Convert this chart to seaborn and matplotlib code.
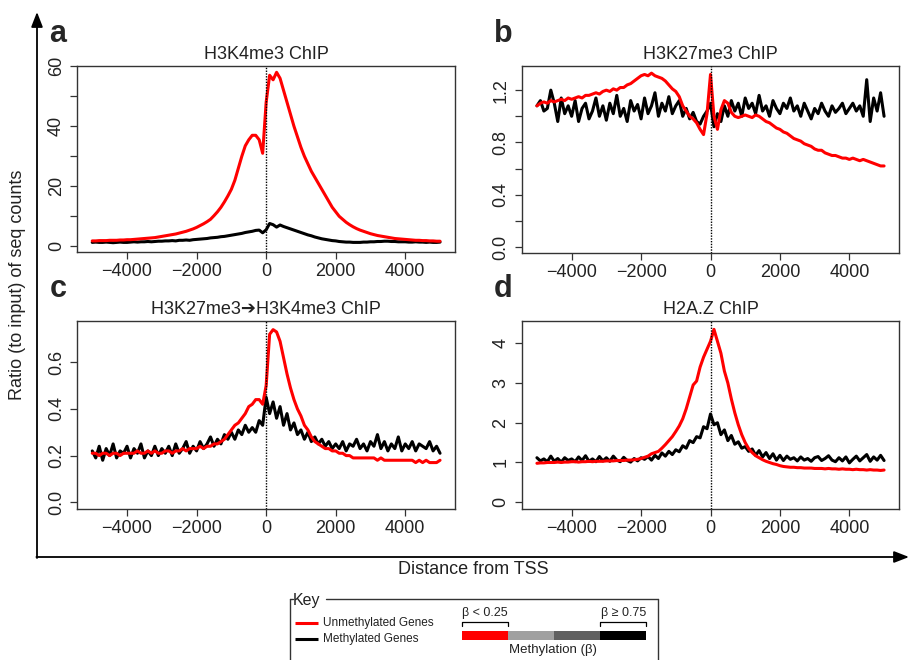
import numpy as np
import pandas as pd
import matplotlib
matplotlib.use("Agg")
import matplotlib.pyplot as plt
import seaborn as sns
from matplotlib.patches import Rectangle

sns.set_style("ticks")
plt.rcParams['font.family'] = ['Liberation Sans', 'DejaVu Sans']

# ---------------- data ----------------
positions = list(range(-5000, 5001, 100))

a_unmeth = [1.8, 1.8, 1.9, 1.9, 1.9, 2.0, 2.0, 2.0, 2.1, 2.1,
            2.2, 2.2, 2.3, 2.4, 2.5, 2.6, 2.7, 2.8, 2.9, 3.1,
            3.3, 3.5, 3.7, 3.9, 4.1, 4.4, 4.7, 5.0, 5.4, 5.8,
            6.3, 6.9, 7.5, 8.2, 9.0, 10.2, 11.5, 13.0, 14.8, 16.8,
            19.0, 22.0, 26.0, 30.0, 33.5, 35.5, 37.0, 37.0, 35.5, 31.0,
            48.0,
            57.0, 55.5, 58.0, 56.0, 52.0, 48.0, 44.0, 40.0, 36.5, 33.0,
            30.0, 27.5, 25.0, 23.0, 21.0, 19.0, 17.0, 15.0, 13.0, 11.5,
            10.0, 9.0, 8.0, 7.2, 6.5, 5.9, 5.4, 5.0, 4.6, 4.2,
            3.9, 3.6, 3.4, 3.2, 3.0, 2.8, 2.6, 2.5, 2.4, 2.3,
            2.2, 2.1, 2.0, 2.0, 1.9, 1.9, 1.8, 1.8, 1.7, 1.7]
a_meth = [1.3, 1.4, 1.3, 1.3, 1.4, 1.3, 1.2, 1.3, 1.4, 1.3,
          1.3, 1.4, 1.5, 1.4, 1.5, 1.5, 1.6, 1.5, 1.6, 1.7,
          1.7, 1.8, 1.8, 1.9, 1.8, 2.0, 2.0, 2.1, 2.0, 2.2,
          2.3, 2.4, 2.5, 2.6, 2.8, 2.9, 3.0, 3.2, 3.3, 3.5,
          3.7, 3.9, 4.1, 4.3, 4.6, 4.8, 5.0, 5.3, 5.4, 4.5,
          5.5,
          7.6, 7.2, 6.4, 7.1, 6.6, 6.2, 5.8, 5.4, 5.0, 4.6,
          4.2, 3.8, 3.5, 3.1, 2.8, 2.5, 2.3, 2.1, 1.9, 1.8,
          1.6, 1.5, 1.4, 1.4, 1.3, 1.3, 1.3, 1.4, 1.4, 1.5,
          1.5, 1.6, 1.6, 1.7, 1.7, 1.6, 1.6, 1.5, 1.5, 1.5,
          1.4, 1.4, 1.5, 1.4, 1.4, 1.3, 1.4, 1.3, 1.3, 1.4]

b_unmeth = [1.08, 1.10, 1.11, 1.10, 1.12, 1.11, 1.12, 1.13, 1.12, 1.14,
            1.13, 1.14, 1.15, 1.14, 1.16, 1.16, 1.17, 1.18, 1.17, 1.19,
            1.20, 1.19, 1.21, 1.20, 1.22, 1.22, 1.24, 1.25, 1.27, 1.29,
            1.31, 1.32, 1.31, 1.33, 1.31, 1.30, 1.29, 1.27, 1.24, 1.21,
            1.19, 1.15, 1.08, 1.04, 1.00, 0.98, 0.95, 0.90, 0.86, 1.02,
            1.32,
            1.00, 0.90, 1.05, 1.12, 1.10, 1.03, 1.00, 0.99, 1.00, 1.01,
            1.00, 0.99, 1.01, 1.00, 0.98, 0.96, 0.95, 0.93, 0.91, 0.90,
            0.88, 0.87, 0.85, 0.83, 0.82, 0.81, 0.79, 0.78, 0.77, 0.75,
            0.74, 0.74, 0.72, 0.71, 0.70, 0.70, 0.69, 0.68, 0.68, 0.67,
            0.68, 0.67, 0.66, 0.67, 0.66, 0.65, 0.64, 0.63, 0.62, 0.62]
b_meth = [1.08, 1.12, 1.04, 1.06, 1.20, 1.10, 0.96, 1.14, 1.02, 1.08,
          1.00, 1.12, 0.96, 1.06, 1.10, 0.98, 1.04, 1.14, 1.00, 1.08,
          0.97, 1.10, 1.02, 1.16, 1.00, 1.06, 0.96, 1.12, 1.04, 1.09,
          0.98, 1.14, 1.02, 1.08, 1.18, 1.00, 1.10, 1.04, 1.15, 1.02,
          1.08, 1.12, 1.00, 1.06, 0.98, 1.03, 0.96, 0.94, 1.00, 1.04,
          1.10,
          0.92, 1.02, 0.96, 1.08, 1.00, 1.12, 1.04, 1.10, 1.00, 1.14,
          1.06, 1.10, 1.02, 1.16, 1.04, 1.08, 1.00, 1.12, 1.06, 1.02,
          1.10, 1.06, 1.14, 1.04, 1.08, 1.00, 1.10, 1.04, 0.98, 1.06,
          1.02, 1.10, 1.04, 1.00, 1.08, 1.03, 1.06, 1.10, 1.02, 1.06,
          1.10, 1.04, 1.08, 1.00, 1.28, 0.96, 1.14, 1.04, 1.18, 1.00, 1.02]

c_unmeth = [0.21, 0.21, 0.20, 0.21, 0.21, 0.20, 0.21, 0.21, 0.20, 0.21,
            0.21, 0.21, 0.21, 0.22, 0.21, 0.21, 0.22, 0.21, 0.22, 0.21,
            0.21, 0.22, 0.22, 0.21, 0.22, 0.22, 0.23, 0.22, 0.23, 0.23,
            0.23, 0.24, 0.23, 0.24, 0.24, 0.25, 0.25, 0.26, 0.27, 0.29,
            0.31, 0.33, 0.34, 0.36, 0.38, 0.41, 0.42, 0.44, 0.44, 0.42,
            0.50,
            0.72, 0.74, 0.73, 0.69, 0.62, 0.55, 0.49, 0.44, 0.40, 0.37,
            0.33, 0.31, 0.28, 0.26, 0.25, 0.24, 0.23, 0.23, 0.22, 0.22,
            0.21, 0.21, 0.20, 0.20, 0.19, 0.19, 0.19, 0.19, 0.19, 0.19,
            0.19, 0.18, 0.19, 0.18, 0.18, 0.18, 0.18, 0.18, 0.18, 0.18,
            0.18, 0.18, 0.17, 0.18, 0.17, 0.18, 0.17, 0.17, 0.17, 0.18]
c_meth = [0.22, 0.19, 0.24, 0.18, 0.23, 0.20, 0.25, 0.19, 0.22, 0.21,
          0.24, 0.19, 0.23, 0.21, 0.25, 0.19, 0.22, 0.20, 0.24, 0.20,
          0.23, 0.21, 0.24, 0.20, 0.25, 0.21, 0.23, 0.26, 0.21, 0.24,
          0.22, 0.26, 0.23, 0.25, 0.28, 0.24, 0.27, 0.25, 0.29, 0.27,
          0.30, 0.27, 0.31, 0.29, 0.33, 0.30, 0.32, 0.30, 0.35, 0.33,
          0.45,
          0.38, 0.43, 0.36, 0.41, 0.33, 0.38, 0.31, 0.34, 0.29, 0.31,
          0.27, 0.30, 0.26, 0.28, 0.25, 0.27, 0.24, 0.26, 0.23, 0.25,
          0.23, 0.26, 0.22, 0.25, 0.24, 0.27, 0.23, 0.25, 0.22, 0.26,
          0.24, 0.29, 0.23, 0.26, 0.22, 0.25, 0.23, 0.28, 0.22, 0.25,
          0.23, 0.26, 0.22, 0.25, 0.24, 0.23, 0.26, 0.22, 0.24, 0.21]

d_unmeth = [0.98, 0.99, 0.99, 1.00, 1.00, 1.00, 1.01, 1.00, 1.01, 1.01,
            1.02, 1.02, 1.01, 1.02, 1.02, 1.03, 1.02, 1.03, 1.03, 1.03,
            1.04, 1.04, 1.04, 1.05, 1.05, 1.05, 1.06, 1.06, 1.07, 1.08,
            1.10, 1.13, 1.16, 1.22, 1.25, 1.28, 1.36, 1.45, 1.55, 1.65,
            1.78, 1.92, 2.10, 2.35, 2.65, 2.95, 3.05, 3.40, 3.65, 3.85,
            4.05,
            4.35, 4.05, 3.75, 3.30, 3.00, 2.60, 2.25, 1.95, 1.70, 1.50,
            1.35, 1.25, 1.17, 1.12, 1.07, 1.03, 1.00, 0.97, 0.95, 0.92,
            0.90, 0.89, 0.88, 0.88, 0.87, 0.87, 0.86, 0.86, 0.86, 0.85,
            0.85, 0.85, 0.84, 0.85, 0.84, 0.84, 0.83, 0.84, 0.83, 0.83,
            0.82, 0.83, 0.82, 0.82, 0.81, 0.82, 0.81, 0.81, 0.80, 0.81]
d_meth = [1.12, 1.04, 1.09, 1.02, 1.16, 1.03, 1.10, 1.01, 1.12, 1.05,
          1.09, 1.02, 1.14, 1.05, 1.17, 1.03, 1.09, 1.02, 1.15, 1.04,
          1.12, 1.03, 1.16, 1.06, 1.02, 1.13, 1.05, 1.01, 1.10, 1.04,
          1.12, 1.08, 1.15, 1.06, 1.18, 1.10, 1.24, 1.16, 1.28, 1.20,
          1.32, 1.27, 1.42, 1.36, 1.55, 1.50, 1.65, 1.62, 1.90, 1.85,
          2.22,
          1.95, 2.00, 1.70, 1.82, 1.55, 1.68, 1.46, 1.52, 1.36, 1.40,
          1.28, 1.34, 1.18, 1.30, 1.14, 1.25, 1.10, 1.22, 1.06, 1.18,
          1.05, 1.16, 1.08, 1.12, 1.04, 1.14, 1.06, 1.10, 1.03, 1.12,
          1.15, 1.05, 1.10, 1.17, 1.06, 1.02, 1.12, 1.04, 1.14, 0.99,
          1.08, 1.16, 1.04, 1.12, 1.20, 1.03, 1.14, 1.06, 1.18, 1.05]

panel_letters = ['a', 'b', 'c', 'd']
panel_titles = ['H3K4me3 ChIP', 'H3K27me3 ChIP',
                'H3K27me3\u2794H3K4me3 ChIP', 'H2A.Z ChIP']
x_ticks = [-4000, -2000, 0, 2000, 4000]
y_ticks = [[0, 10, 20, 30, 40, 50, 60],
           [0.0, 0.2, 0.4, 0.6, 0.8, 1.0, 1.2],
           [0.0, 0.2, 0.4, 0.6],
           [0, 1, 2, 3, 4]]
y_labels = [['0', '', '20', '', '40', '', '60'],
            ['0.0', '', '0.4', '', '0.8', '', '1.2'],
            ['0.0', '0.2', '0.4', '0.6'],
            ['0', '1', '2', '3', '4']]
y_limits = [(-2.0, 60.2), (-0.046, 1.387), (-0.029, 0.777), (-0.17, 4.56)]
series = [(a_unmeth, a_meth), (b_unmeth, b_meth),
          (c_unmeth, c_meth), (d_unmeth, d_meth)]

key_labels = ['Unmethylated Genes', 'Methylated Genes']
key_colors = ['#ff0000', '#000000']
scale_colors = ['#ff0000', '#a0a0a0', '#606060', '#000000']

# ---------------- figure ----------------
W, H = 909, 660
fig = plt.figure(figsize=(W / 100, H / 100), dpi=100)

# overlay (pixel coordinates, y downward)
ov = fig.add_axes([0, 0, 1, 1], zorder=-1)
ov.set_xlim(0, W)
ov.set_ylim(H, 0)
ov.axis('off')

boxes = [(77.3, 455, 65.7, 252.3), (522, 899, 65.7, 253),
         (77.3, 455, 321, 509), (522, 899, 321, 509)]

for i, (l, r, t, b) in enumerate(boxes):
    ax = fig.add_axes([l / W, 1 - b / H, (r - l) / W, (b - t) / H])
    un, me = series[i]
    df = pd.DataFrame({'pos': positions * 2,
                       'val': list(un)[:101] + list(me)[:101],
                       'group': [key_labels[0]] * 101 + [key_labels[1]] * 101})
    sns.lineplot(data=df, x='pos', y='val', hue='group',
                 hue_order=[key_labels[1], key_labels[0]],
                 palette={key_labels[0]: key_colors[0], key_labels[1]: key_colors[1]},
                 linewidth=2.2, legend=False, ax=ax, estimator=None)
    ax.axvline(0, color='black', linestyle=(0, (1, 1)), linewidth=1.0, zorder=5)
    ax.set_xlim(-5430, 5430)
    ax.set_ylim(*y_limits[i])
    ax.set_xticks(x_ticks)
    ax.set_xticklabels([f"\u2212{abs(v)}" if v < 0 else str(v) for v in x_ticks])
    ax.set_yticks(y_ticks[i])
    ax.set_yticklabels(y_labels[i], rotation=90, va='center')
    ax.tick_params(axis='both', labelsize=13, length=5, width=0.9,
                   color='#333333', labelcolor='#222222', direction='out')
    ax.tick_params(axis='x', pad=3)
    ax.tick_params(axis='y', pad=4)
    ax.set_xlabel('')
    ax.set_ylabel('')
    for s in ax.spines.values():
        s.set_color('#333333')
        s.set_linewidth(1.0)
    ax.set_title(panel_titles[i], fontsize=13, pad=5, color='#222222')
    ov.text(l - 28, t - 17, panel_letters[i], fontsize=22, fontweight='bold',
            ha='left', va='bottom')

# big axes arrows
ov.annotate('', xy=(37, 12), xytext=(37, 558),
            arrowprops=dict(arrowstyle='-|>,head_width=0.35,head_length=0.9',
                            lw=1.3, color='black', shrinkA=0, shrinkB=0))
ov.annotate('', xy=(909, 557), xytext=(36.4, 557),
            arrowprops=dict(arrowstyle='-|>,head_width=0.35,head_length=0.9',
                            lw=1.3, color='black', shrinkA=0, shrinkB=0))
ov.text(18, 285, 'Ratio (to input) of seq counts', rotation=90,
        ha='center', va='center', fontsize=13, color='#222222')
ov.text(473, 570, 'Distance from TSS', ha='center', va='center',
        fontsize=13, color='#222222')

# key box
kc = '#333333'
ov.plot([290, 290], [599, 662], color=kc, lw=1.0, clip_on=False)
ov.plot([658, 658], [599, 662], color=kc, lw=1.0, clip_on=False)
ov.plot([290, 293], [599, 599], color=kc, lw=1.0)
ov.plot([326, 658], [599, 599], color=kc, lw=1.0)
ov.text(293, 600, 'Key', ha='left', va='center', fontsize=11.5, color='#222222')
for j, (lab, col) in enumerate(zip(key_labels, key_colors)):
    yy = 623 + 16 * j
    ov.plot([295, 318], [yy, yy], color=col, lw=2.2, solid_capstyle='butt')
    ov.text(323, yy, lab, ha='left', va='center', fontsize=8.5, color='#222222')

seg_w = (646 - 462) / len(scale_colors)
for j, col in enumerate(scale_colors):
    ov.add_patch(Rectangle((462 + j * seg_w, 630.5), seg_w, 9.5,
                           facecolor=col, edgecolor='none'))
for x0, x1 in [(462, 462 + seg_w), (646 - seg_w, 646)]:
    ov.plot([x0, x0, x1, x1], [626, 622, 622, 626], color='black', lw=0.9)
ov.text(462, 613, '\u03b2 < 0.25', ha='left', va='center', fontsize=9, color='#222222')
ov.text(646, 613, '\u03b2 \u2265 0.75', ha='right', va='center', fontsize=9, color='#222222')
ov.text(553, 650, 'Methylation (\u03b2)', ha='center', va='center', fontsize=9.5, color='#222222')

fig.savefig('out.png', dpi=100)
